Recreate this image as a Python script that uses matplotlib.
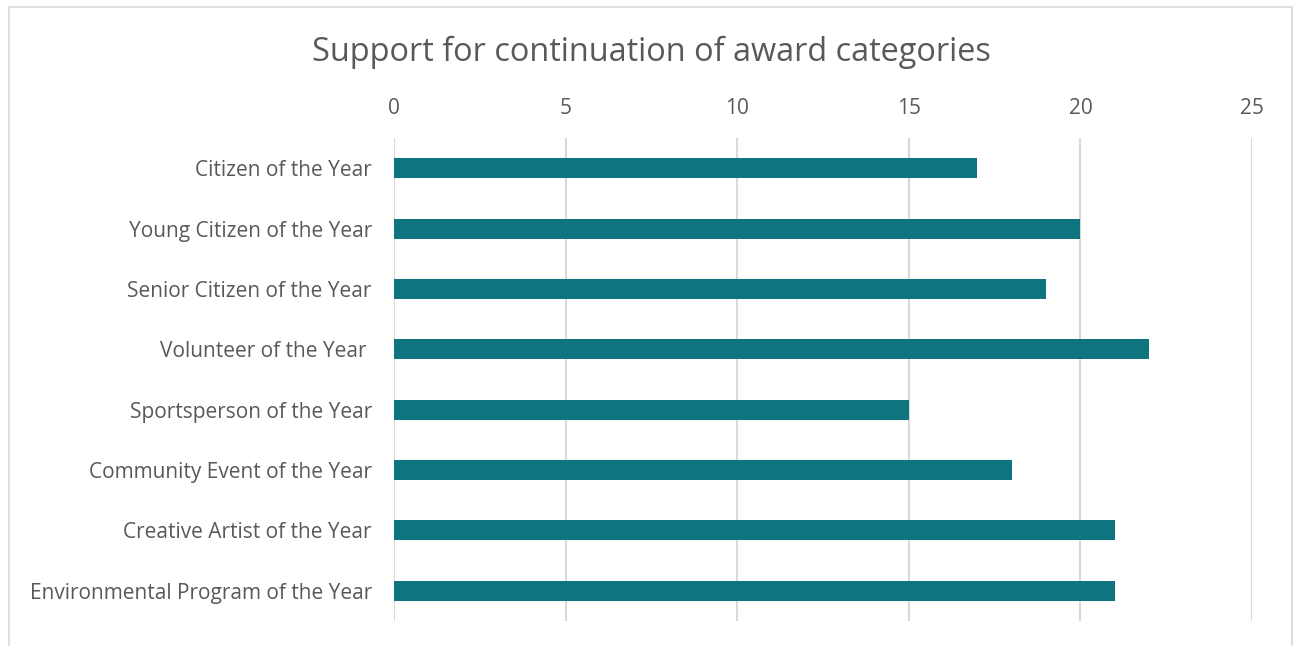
import numpy as np
import matplotlib.pyplot as plt
from matplotlib.patches import Rectangle

categories = ['Citizen of the Year', 'Young Citizen of the Year', 'Senior Citizen of the Year',
              'Volunteer of the Year ', 'Sportsperson of the Year', 'Community Event of the Year',
              'Creative Artist of the Year', 'Environmental Program of the Year']
values = [17, 20, 19, 22, 15, 18, 21, 21]
x_ticks = [0, 5, 10, 15, 20, 25]

text_color = '#595959'
plt.rcParams['font.family'] = ['Open Sans', 'DejaVu Sans']

fig = plt.figure(figsize=(12.98, 6.46), dpi=100)
fig.patches.append(Rectangle((9 / 1298, -0.01), 1283 / 1298, 1 - 7 / 646 + 0.01,
                             transform=fig.transFigure, fill=False,
                             edgecolor='#d9d9d9', linewidth=1.2))

ax = fig.add_axes([394 / 1298, 25 / 646, 858 / 1298, 483 / 646])
y = np.arange(len(categories))
ax.barh(y, values, height=0.33, color='#0e7480', zorder=3)

ax.set_xlim(0, 25)
ax.set_ylim(len(categories) - 0.5, -0.5)
ax.set_xticks(x_ticks)
ax.set_yticks(y)
ax.set_yticklabels(categories)
ax.xaxis.tick_top()
ax.tick_params(axis='x', length=0, pad=14, labelsize=15, colors=text_color)
ax.tick_params(axis='y', length=0, pad=16, labelsize=15, colors=text_color)
ax.grid(axis='x', color='#d9d9d9', linewidth=1.5, zorder=0)
for s in ax.spines.values():
    s.set_visible(False)

fig.text(651 / 1298, 1 - 52 / 646, 'Support for continuation of award categories',
         ha='center', va='center', fontsize=23.4, color=text_color)

fig.savefig('out.png', dpi=100)
